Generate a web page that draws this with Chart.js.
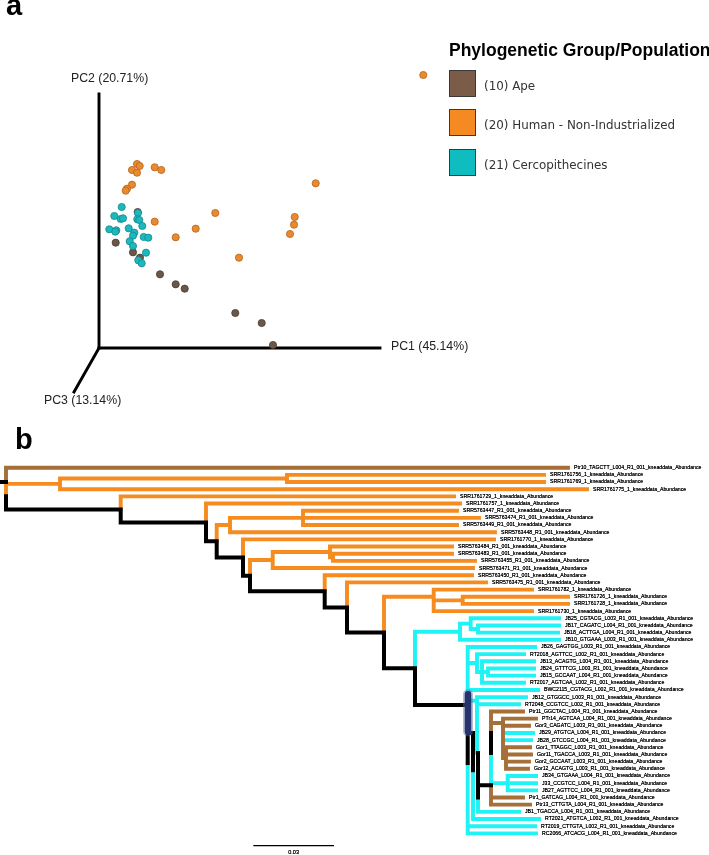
<!DOCTYPE html>
<html>
<head>
<meta charset="utf-8">
<title>PCoA and phylogeny</title>
<script src="https://cdn.jsdelivr.net/npm/chart.js@4/dist/chart.umd.min.js"></script>
<style>
  html, body { margin: 0; background: #fff; }
  #page { position: relative; width: 709px; height: 855px; overflow: hidden; }
  canvas { position: absolute; left: 0; filter: blur(0.35px); }
  #pcoa { top: 0; }
  #tree { top: 425px; }
  .panel { position: absolute; font: bold 29px "Liberation Sans", sans-serif; line-height: 29px; }
  #legendTitle { position: absolute; left: 449px; top: 40px; font: bold 17.5px "Liberation Sans", sans-serif; white-space: nowrap; }
  .swatch { position: absolute; left: 449px; width: 25px; height: 25px; border: 1px solid #3a3a3a; }
  .entry { position: absolute; left: 484px; font: 11.9px "DejaVu Sans", sans-serif; color: #333; white-space: nowrap; filter: blur(0.3px); }
</style>
</head>
<body>
<div id="page">
  <canvas id="pcoa" width="709" height="425"></canvas>
  <canvas id="tree" width="709" height="430"></canvas>
  <div class="panel" style="left:6px;top:-9px">a</div>
  <div class="panel" style="left:15px;top:425px">b</div>
  <div id="legendTitle">Phylogenetic Group/Population</div>
</div>
<script>
// Panel a: PCoA scores
const humanPC1 = [38, 40.7, 33, 38, 55.7, 62.3, 33, 28, 26.7, 216.7, 116.3, 55.7, 96.7, 76.7, 195.7, 195, 191, 140, 324.3];
const humanPC2 = [184, 182, 178, 175.3, 180.7, 178, 163.3, 159.3, 157.3, 164.7, 135, 126.3, 119.3, 110.7, 131, 123.3, 114, 90.3, 273];
const cercoPC1 = [22.7, 15.3, 21.7, 24, 39, 38.3, 40.3, 43.3, 10.3, 17.3, 16.3, 29.7, 35.3, 34, 44.7, 49.3, 30.7, 34, 47, 39.3, 42.7];
const cercoPC2 = [141, 132, 129, 129.7, 135, 128.7, 128, 122, 118.7, 117.7, 116.3, 119.7, 115.3, 112.3, 111, 110.3, 106.7, 102, 95.3, 87.7, 84.7];
const apePC1 = [16.7, 34, 41, 61, 76.7, 85.7, 136.3, 162.7, 174, 38.7];
const apePC2 = [105.3, 95.7, 90.3, 73.7, 63.7, 59.3, 35, 25, 3, 136];

const axisEnds = [[281, 0], [0, 254], [-25, -44]];
const axisTitles = ['PC1 (45.14%)', 'PC2 (20.71%)', 'PC3 (13.14%)'];
const axisTitleAt = [[292, 1], [-28, 269], [-55, -53]];

const legendNames = ['(10) Ape', '(20) Human - Non-Industrialized', '(21) Cercopithecines'];
const legendColors = ['#7a5c48', '#f58a23', '#0fbcbf'];

// Panel b: tips, top to bottom
const tipLabels = [
  'Ptr10_TAGCTT_L004_R1_001_kneaddata_Abundance', 'SRR1761756_1_kneaddata_Abundance', 'SRR1761769_1_kneaddata_Abundance',
  'SRR1761775_1_kneaddata_Abundance', 'SRR1761729_1_kneaddata_Abundance', 'SRR1761757_1_kneaddata_Abundance',
  'SRR5763447_R1_001_kneaddata_Abundance', 'SRR5763474_R1_001_kneaddata_Abundance', 'SRR5763449_R1_001_kneaddata_Abundance',
  'SRR5763448_R1_001_kneaddata_Abundance', 'SRR1761770_1_kneaddata_Abundance', 'SRR5763484_R1_001_kneaddata_Abundance',
  'SRR5763483_R1_001_kneaddata_Abundance', 'SRR5763455_R1_001_kneaddata_Abundance', 'SRR5763471_R1_001_kneaddata_Abundance',
  'SRR5763450_R1_001_kneaddata_Abundance', 'SRR5763475_R1_001_kneaddata_Abundance', 'SRR1761782_1_kneaddata_Abundance',
  'SRR1761726_1_kneaddata_Abundance', 'SRR1761728_1_kneaddata_Abundance', 'SRR1761730_1_kneaddata_Abundance',
  'JB25_CGTACG_L003_R1_001_kneaddata_Abundance', 'JB17_CAGATC_L004_R1_001_kneaddata_Abundance', 'JB18_ACTTGA_L004_R1_001_kneaddata_Abundance',
  'JB10_GTGAAA_L003_R1_001_kneaddata_Abundance', 'JB26_GAGTGG_L003_R1_001_kneaddata_Abundance', 'RT2018_AGTTCC_L002_R1_001_kneaddata_Abundance',
  'JB13_ACAGTG_L004_R1_001_kneaddata_Abundance', 'JB24_GTTTCG_L003_R1_001_kneaddata_Abundance', 'JB15_GCCAAT_L004_R1_001_kneaddata_Abundance',
  'RT2017_AGTCAA_L002_R1_001_kneaddata_Abundance', 'BWC2115_CGTACG_L002_R1_001_kneaddata_Abundance', 'JB12_GTGGCC_L003_R1_001_kneaddata_Abundance',
  'RT2048_CCGTCC_L002_R1_001_kneaddata_Abundance', 'Ptr11_GGCTAC_L004_R1_001_kneaddata_Abundance', 'PTr14_AGTCAA_L004_R1_001_kneaddata_Abundance',
  'Gor3_CAGATC_L003_R1_001_kneaddata_Abundance', 'JB29_ATGTCA_L004_R1_001_kneaddata_Abundance', 'JB28_GTCCGC_L004_R1_001_kneaddata_Abundance',
  'Gor1_TTAGGC_L003_R1_001_kneaddata_Abundance', 'Gor11_TGACCA_L003_R1_001_kneaddata_Abundance', 'Gor2_GCCAAT_L003_R1_001_kneaddata_Abundance',
  'Gor12_ACAGTG_L003_R1_001_kneaddata_Abundance', 'JB34_GTGAAA_L004_R1_001_kneaddata_Abundance', 'J33_CCGTCC_L004_R1_001_kneaddata_Abundance',
  'JB27_AGTTCC_L004_R1_001_kneaddata_Abundance', 'Ptr1_GATCAG_L004_R1_001_kneaddata_Abundance', 'Ptr13_CTTGTA_L004_R1_001_kneaddata_Abundance',
  'JB1_TGACCA_L004_R1_001_kneaddata_Abundance', 'RT2021_ATGTCA_L002_R1_001_kneaddata_Abundance', 'RT2019_CTTGTA_L002_R1_001_kneaddata_Abundance',
  'RC2066_ATCACG_L004_R1_001_kneaddata_Abundance'
];
const tipDepth = [568, 544, 544, 587, 454, 460, 457, 479, 457, 495, 494, 452, 452, 475, 473, 472, 486, 532, 568, 568, 532,
  559, 559, 558, 559, 535, 524, 534, 534, 534, 524, 538, 526, 519, 523, 536, 529, 533, 531, 530, 531, 529, 528, 536, 536, 536, 523, 530, 519, 539, 535, 536];
const tipGroup = ['b', 'o', 'o', 'o', 'o', 'o', 'o', 'o', 'o', 'o', 'o', 'o', 'o', 'o', 'o', 'o', 'o', 'o', 'o', 'o', 'o',
  'c', 'c', 'c', 'c', 'c', 'c', 'c', 'c', 'c', 'c', 'c', 'c', 'c', 'b', 'b', 'b', 'c', 'c', 'b', 'b', 'b', 'b', 'c', 'c', 'c', 'b', 'b', 'c', 'c', 'c', 'c'];

const branchColors = { c: '#1ff3f5', o: '#f68b1f', b: '#a56f38', k: '#000000' };

// node: depth, group, children (plain numbers are tip rows), optional row
const N = (depth, group, kids, row) => ({ depth, group, kids, row });

// cyan and ape clade, bottom up
const gorillas = N(506, 'b', [39, 40, 41, 42]);
const apeFan = N(503, 'b', [35, 36, 37, 38, gorillas], 35.6);
const apeTop = N(491, 'k', [34, apeFan], 37);
const apeStem = N(491, 'c', [apeTop], 39.8);
const mixedNode = N(491, 'k', [apeStem, N(507.7, 'c', [43, 44, 45]), N(491, 'b', [46, 47])], 44.3);
const ladderLow = N(478, 'k', [mixedNode, 48], 46);
const ladderTop = N(478, 'c', [ladderLow], 39.8);
const jb12Node = N(477, 'c', [32, 33, ladderTop], 32.5);
const jb13Node = N(482, 'c', [27, N(488, 'c', [28, 29]), 30]);
const jb26Node = N(477, 'c', [26, jb13Node]);
const trunkLow = N(467.7, 'k', [N(473, 'k', [N(473, 'k', [49], 42.2)], 37), 50, 51], 41.2);
const trunk = N(467.7, 'k', [25, jb26Node, 31, jb12Node, trunkLow], 33.1);
const jb25Node = N(460, 'c', [N(470.7, 'c', [21, N(478, 'c', [22, 23])]), 24]);
const cyanRoot = N(415, 'k', [jb25Node, trunk]);

// orange grade, bottom up
const srr82Node = N(433.7, 'o', [17, N(462.7, 'o', [18, 19]), 20], 18);
const step384 = N(384, 'k', [srr82Node, cyanRoot]);
const step347 = N(347, 'k', [16, step384]);
const step325 = N(324.7, 'k', [15, step347]);
const srr84Node = N(272.7, 'o', [N(330, 'o', [11, N(333, 'o', [12, 13])]), 14]);
const step250 = N(250, 'k', [srr84Node, step325]);
const step243 = N(243, 'k', [10, step250]);
const srr47Node = N(230, 'o', [N(303, 'o', [6, 7, 8]), 9]);
const step217 = N(216.7, 'k', [srr47Node, step243]);
const step206 = N(206, 'k', [5, step217]);
const step121 = N(120.7, 'k', [4, step206]);
const rootLower = N(6, 'o', [step121], 4);
const treeShape = N(6, 'k', [0, N(60, 'o', [N(287, 'o', [1, 2]), 3]), rootLower], 2);

const highlightDepth = [468, 468];
const highlightRow = [31.6, 36.8];
const scaleBarDepth = [253.3, 334];
const scaleBarRow = 52.7;
const scaleBarLabel = '0.03';

// walk the tree into line pieces, one list per colour
const pieces = { c: [], o: [], b: [], k: [] };
function addPiece(group, x1, y1, x2, y2) {
  if (x1 === x2 && y1 === y2) return;
  pieces[group].push({ x: x1, y: y1 }, { x: x2, y: y2 }, { x: NaN, y: NaN });
}
function rowOf(node) {
  if (typeof node === 'number') return node;
  const rows = node.kids.map(rowOf);
  node.y = node.row !== undefined ? node.row : (rows[0] + rows[rows.length - 1]) / 2;
  return node.y;
}
function walk(node, parentX, parentY) {
  const isTip = typeof node === 'number';
  const group = isTip ? tipGroup[node] : node.group;
  const x = isTip ? tipDepth[node] : node.depth;
  const y = isTip ? node : node.y;
  addPiece(group, parentX, parentY, parentX, y);
  addPiece(group, parentX, y, x, y);
  if (!isTip) node.kids.forEach(kid => walk(kid, x, y));
}
rowOf(treeShape);
walk(treeShape, 0, treeShape.y);

const zip = (xs, ys) => xs.map((x, i) => ({ x, y: ys[i] }));
const dots = (label, xs, ys, fill, edge, order) => ({
  label, data: zip(xs, ys), backgroundColor: fill, borderColor: edge,
  borderWidth: 0.8, pointRadius: 3.6, showLine: false, order
});
const stroke = (data, color, width, order, cap) => ({
  data, borderColor: color, borderWidth: width, pointRadius: 0, showLine: true,
  borderCapStyle: cap || 'square', spanGaps: false, order
});
const hiddenScale = (min, max, reverse) => ({ type: 'linear', display: false, min, max, reverse: !!reverse });
const baseOptions = {
  responsive: false,
  animation: false,
  layout: { padding: 0, autoPadding: false },
  plugins: { legend: { display: false }, tooltip: { enabled: false } }
};

// Panel a chart
new Chart(document.getElementById('pcoa'), {
  type: 'scatter',
  data: {
    datasets: [
      dots('(20) Human - Non-Industrialized', humanPC1, humanPC2, '#ea8a2e', '#b5641c', 1),
      dots('(21) Cercopithecines', cercoPC1, cercoPC2, '#1db8bb', '#128a90', 2),
      dots('(10) Ape', apePC1, apePC2, '#6a5748', '#4a3d33', 3),
      ...axisEnds.map(end => stroke([{ x: 0, y: 0 }, { x: end[0], y: end[1] }], '#000', 2.9, 4))
    ]
  },
  options: { ...baseOptions, scales: { x: hiddenScale(-99, 610), y: hiddenScale(-77, 348) } },
  plugins: [{
    id: 'axisTitles',
    afterDatasetsDraw(chart) {
      const { ctx, scales } = chart;
      ctx.save();
      ctx.font = '12.3px "Liberation Sans", sans-serif';
      ctx.fillStyle = '#222';
      ctx.textBaseline = 'middle';
      axisTitles.forEach((text, i) => {
        ctx.fillText(text, scales.x.getPixelForValue(axisTitleAt[i][0]), scales.y.getPixelForValue(axisTitleAt[i][1]));
      });
      ctx.restore();
    }
  }]
});

// Panel b chart
new Chart(document.getElementById('tree'), {
  type: 'scatter',
  data: {
    datasets: [
      stroke(zip(highlightDepth, highlightRow), '#26346e', 6.5, 1, 'round'),
      stroke(zip(highlightDepth, highlightRow), 'rgba(90,110,170,0.45)', 10, 2, 'round'),
      stroke(pieces.k, branchColors.k, 4, 3),
      stroke(pieces.b, branchColors.b, 3.9, 4),
      stroke(pieces.o, branchColors.o, 3.9, 5),
      stroke(pieces.c, branchColors.c, 3.9, 6),
      stroke(zip(scaleBarDepth, [scaleBarRow, scaleBarRow]), '#000', 1.2, 7, 'butt')
    ]
  },
  options: { ...baseOptions, scales: { x: hiddenScale(0, 709), y: hiddenScale(-5.955, 54.02, true) } },
  plugins: [{
    id: 'tipLabels',
    afterDatasetsDraw(chart) {
      const { ctx, scales } = chart;
      ctx.save();
      ctx.fillStyle = '#000';
      ctx.shadowColor = '#000';
      ctx.shadowBlur = 0.6;
      ctx.textBaseline = 'middle';
      ctx.font = '5.2px "Liberation Sans", sans-serif';
      tipLabels.forEach((text, i) => {
        ctx.fillText(text, scales.x.getPixelForValue(tipDepth[i]) + 6, scales.y.getPixelForValue(i));
      });
      ctx.textAlign = 'center';
      ctx.font = '5.6px "Liberation Sans", sans-serif';
      ctx.fillText(scaleBarLabel, scales.x.getPixelForValue((scaleBarDepth[0] + scaleBarDepth[1]) / 2), scales.y.getPixelForValue(scaleBarRow + 1));
      ctx.restore();
    }
  }]
});

// HTML legend
const page = document.getElementById('page');
legendNames.forEach((name, i) => {
  const top = 70 + i * 39.3;
  const box = document.createElement('div');
  box.className = 'swatch';
  box.style.top = top + 'px';
  box.style.background = legendColors[i];
  page.appendChild(box);
  const text = document.createElement('div');
  text.className = 'entry';
  text.style.top = (top + 9) + 'px';
  text.textContent = name;
  page.appendChild(text);
});
</script>
</body>
</html>
